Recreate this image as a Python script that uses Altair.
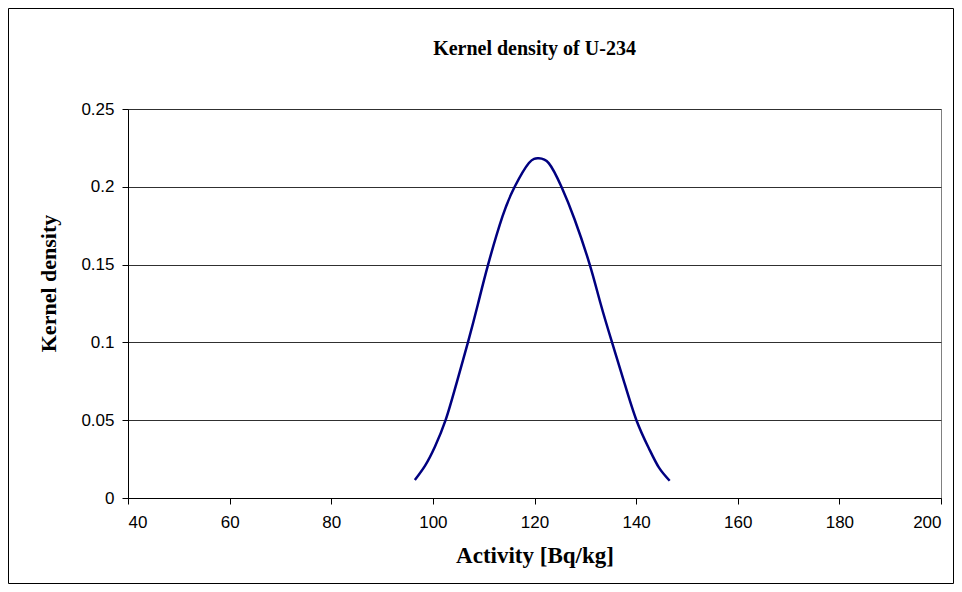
import altair as alt
import pandas as pd

activity = [96.45, 98.5, 100.4, 102.5, 104.65, 106.9, 108.9, 110.87, 113.7, 116.1,
            118.9, 120.8, 122.8, 125.3, 127.9, 130.87, 133.0, 135.26, 137.6, 140.06,
            142.5, 144.5, 146.6]
density = [0.0116, 0.021, 0.033, 0.05, 0.0737, 0.1, 0.125, 0.15, 0.181, 0.2,
           0.2153, 0.2183, 0.2152, 0.2, 0.179, 0.15, 0.125, 0.1, 0.075, 0.05,
           0.032, 0.0195, 0.0111]

x_ticks = [40, 60, 80, 100, 120, 140, 160, 180, 200]
y_ticks = [0, 0.05, 0.1, 0.15, 0.2, 0.25]
chart_title = "Kernel density of U-234"

df = pd.DataFrame({"activity": activity, "density": density})

W, H = 813, 389
PL, PT, PR, PB = 120, 101, 13, 86

line = alt.Chart(df).mark_line(color="#000080", strokeWidth=2.5, interpolate="natural").encode(
    x=alt.X("activity:Q",
            scale=alt.Scale(domain=[40, 200], nice=False, zero=False),
            axis=alt.Axis(values=x_ticks, title="Activity [Bq/kg]", grid=False,
                          labelFont="Liberation Sans", labelFontSize=17, labelColor="#000",
                          labelPadding=10, tickSize=6, tickColor="#000", domainColor="#000",
                          titleFont="Liberation Serif", titleFontSize=23, titleFontWeight="bold",
                          titleColor="#000", titlePadding=14)),
    y=alt.Y("density:Q",
            scale=alt.Scale(domain=[0, 0.25], nice=False),
            axis=alt.Axis(values=y_ticks, format="~g", title="Kernel density", grid=True,
                          gridColor="#303030", gridWidth=1,
                          labelFont="Liberation Sans", labelFontSize=17, labelColor="#000",
                          labelPadding=8, tickSize=6, tickColor="#000", domainColor="#000",
                          titleFont="Liberation Serif", titleFontSize=22, titleFontWeight="bold",
                          titleColor="#000", titlePadding=20, titleY=174)),
)

one = pd.DataFrame({"t": [chart_title]})

border = alt.Chart(one).mark_rect(
    fill="transparent", stroke="#000", strokeWidth=1, clip=False
).encode(
    x=alt.value(-PL + 0.5), x2=alt.value(W + PR - 0.5),
    y=alt.value(-PT + 0.5), y2=alt.value(H + PB - 0.5),
)

title = alt.Chart(one).mark_text(
    font="Liberation Serif", fontSize=20, fontWeight="bold", color="#000",
    align="center", baseline="alphabetic", clip=False
).encode(
    x=alt.value(W / 2), y=alt.value(-54), text="t:N"
)

chart = alt.layer(border, line, title).properties(
    width=W, height=H,
    padding={"left": PL, "top": PT, "right": PR, "bottom": PB},
    autosize=alt.AutoSizeParams(type="none"),
    background="white",
).configure_view(stroke="#808080", strokeWidth=1)

chart.save("out.html", embed_options={"renderer": "svg", "actions": False})
